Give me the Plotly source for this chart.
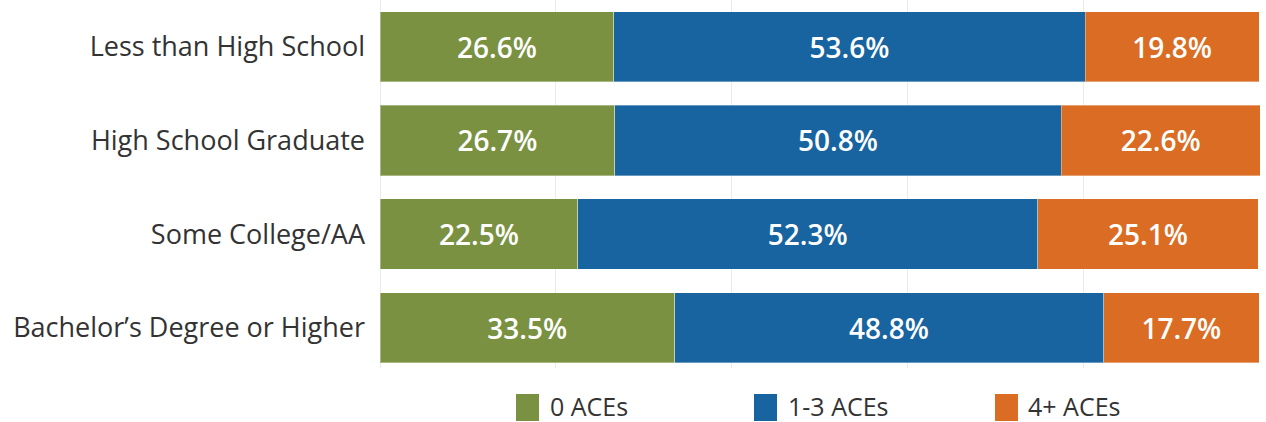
import plotly.graph_objects as go

categories = ["Less than High School", "High School Graduate", "Some College/AA", "Bachelor\u2019s Degree or Higher"]
series_names = ["0 ACEs", "1-3 ACEs", "4+ ACEs"]
aces_0 = [26.6, 26.7, 22.5, 33.5]
aces_1_3 = [53.6, 50.8, 52.3, 48.8]
aces_4p = [19.8, 22.6, 25.1, 17.7]
colors = ["#7A9141", "#1764A0", "#DA6D23"]

W, H = 1266, 422
ML, MR, MT, MB = 380, 6, 0, 54
PW = W - ML - MR
PH = H - MT - MB

fig = go.Figure()
for name, vals, col in zip(series_names, [aces_0, aces_1_3, aces_4p], colors):
    fig.add_trace(go.Bar(
        y=categories, x=vals, orientation="h", name=name,
        marker=dict(color=col, line=dict(color="rgba(255,255,255,0.35)", width=1)),
        texttemplate="%{x:.1f}%", textposition="inside", insidetextanchor="middle",
        textfont=dict(family="Open Sans", size=28, color="white", weight=600),
        constraintext="none", showlegend=False, hoverinfo="skip",
    ))

fig.update_layout(
    barmode="stack", bargap=0.25,
    width=W, height=H,
    margin=dict(l=ML, r=MR, t=MT, b=MB, pad=0),
    paper_bgcolor="white", plot_bgcolor="white",
    font=dict(family="Open Sans", color="#333333"),
    xaxis=dict(range=[0, 100.1], dtick=20, showticklabels=False, showgrid=True,
               gridcolor="#ebebeb", gridwidth=1, zeroline=True, zerolinecolor="#ebebeb",
               zerolinewidth=1, showline=False, fixedrange=True),
    yaxis=dict(range=[3.43, -0.5], showgrid=False, zeroline=False, ticks="",
               tickfont=dict(family="Open Sans", size=27, color="#333333"),
               ticklabelstandoff=14, fixedrange=True),
)

# Manual legend (pixel-positioned squares with labels)
legend_items = [(516, 548), (754, 786), (995, 1026)]
def px_to_paper_x(px):
    return (px - ML) / PW
def py_to_paper_y(py):
    return (H - MB - py) / PH

for (sx, tx), name, col in zip(legend_items, series_names, colors):
    fig.add_shape(type="rect", xref="paper", yref="paper",
                  x0=px_to_paper_x(sx), x1=px_to_paper_x(sx + 23),
                  y0=py_to_paper_y(394), y1=py_to_paper_y(421),
                  fillcolor=col, line=dict(width=0))
    fig.add_annotation(xref="paper", yref="paper", x=px_to_paper_x(tx), y=py_to_paper_y(406),
                       text=name, showarrow=False, xanchor="left", yanchor="middle",
                       font=dict(family="Open Sans", size=25, color="#333333"))

fig.write_html("out.html", config={"displayModeBar": False},
               post_script="document.body.style.margin='0';document.body.style.padding='0';")
